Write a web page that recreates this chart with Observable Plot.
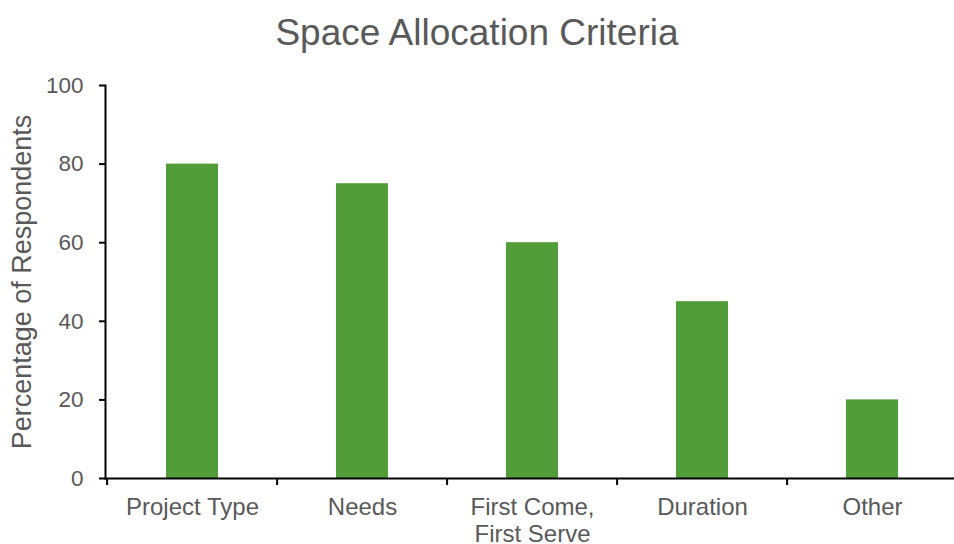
<!DOCTYPE html>
<html>
<head>
<meta charset="utf-8">
<script src="https://cdn.jsdelivr.net/npm/d3@7"></script>
<script src="https://cdn.jsdelivr.net/npm/@observablehq/plot@0.6"></script>
<style>
  html, body { margin: 0; padding: 0; background: #fff; overflow: hidden; width: 954px; height: 544px; }
  #title { height: 70px; line-height: 65px; text-align: center; width: 954px;
    font-family: "Liberation Sans", Arial, sans-serif; font-size: 37px; color: #595959; }
  svg { display: block; max-width: none !important; }
</style>
</head>
<body>
<div id="title">Space Allocation Criteria</div>
<div id="chart"></div>
<script>
const categories = ["Project Type", "Needs", "First Come, First Serve", "Duration", "Other"];
const tickLabels = ["Project Type", "Needs", "First Come,\nFirst Serve", "Duration", "Other"];
const values = [80, 75, 60, 45, 20];
const yTicks = [0, 20, 40, 60, 80, 100];
const yLabel = "Percentage of Respondents";

const data = categories.map((c, i) => ({category: c, value: values[i], label: tickLabels[i]}));

const W = 960, H = 474, ML = 105, MR = 1;
const band = (W - ML - MR) / categories.length;
const textColor = "#595959";

const chart = Plot.plot({
  width: W,
  height: H,
  marginLeft: ML,
  marginRight: MR,
  marginTop: 15,
  marginBottom: 66,
  style: {fontFamily: "'Liberation Sans', Arial, sans-serif", background: "#fff", overflow: "visible", maxWidth: "none"},
  x: {domain: categories, padding: 0},
  y: {domain: [0, 100]},
  marks: [
    Plot.barY(data, {x: "category", y: "value", fill: "#529d3a", insetLeft: 59, insetRight: 59}),
    Plot.axisY({ticks: yTicks, tickSize: 6, tickPadding: 16, fontSize: 22.5, color: textColor, stroke: "#000", strokeWidth: 2, label: null}),
    Plot.axisX({ticks: [], label: null}),
    Plot.frame({anchor: "left", stroke: "#000", strokeWidth: 2}),
    Plot.frame({anchor: "bottom", stroke: "#000", strokeWidth: 2}),
    Plot.ruleX(data, {x: "category", y1: 0, y2: 0, insetBottom: -7, dx: -band / 2, stroke: "#000", strokeWidth: 2}),
    Plot.text(data, {x: "category", text: "label", frameAnchor: "bottom", lineAnchor: "top", dy: 18, fontSize: 24, lineHeight: 1.1, fill: textColor}),
    Plot.text([yLabel], {text: d => d, frameAnchor: "left", textAnchor: "middle", rotate: -90, dx: -83, fontSize: 27, fill: textColor})
  ]
});
document.getElementById("chart").appendChild(chart);
</script>
</body>
</html>
